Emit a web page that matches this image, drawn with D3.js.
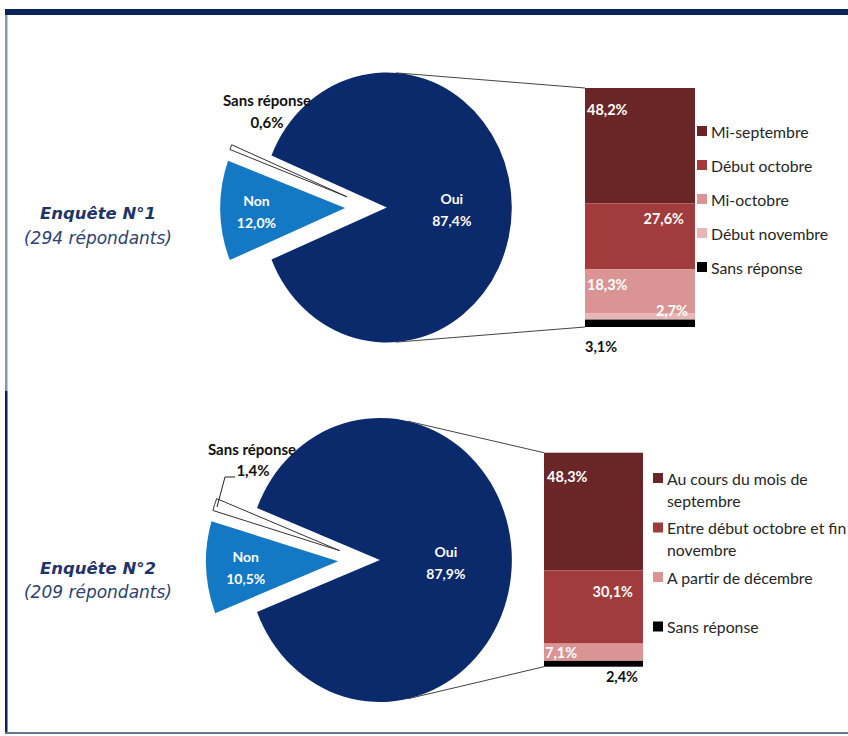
<!DOCTYPE html>
<html><head><meta charset="utf-8">
<script src="https://cdn.jsdelivr.net/npm/d3@7"></script>
<style>body{margin:0;background:#fff} svg{display:block}</style>
</head><body>
<svg id="c" width="848" height="736"></svg>
<script>
// ---------- DATA ----------
const surveyTitles = ["Enquête N°1", "Enquête N°2"];
const surveySubtitles = ["(294 répondants)", "(209 répondants)"];

const pie1Labels = ["Oui", "Non", "Sans réponse"];
const pie1Values = [87.4, 12.0, 0.6];
const pie2Labels = ["Oui", "Non", "Sans réponse"];
const pie2Values = [87.9, 10.5, 1.4];

const bar1Categories = ["Mi-septembre", "Début octobre", "Mi-octobre", "Début novembre", "Sans réponse"];
const bar1Values = [48.2, 27.6, 18.3, 2.7, 3.1];
const bar2Categories = ["Au cours du mois de|septembre", "Entre début octobre et fin|novembre", "A partir de décembre", "Sans réponse"];
const bar2Values = [48.3, 30.1, 7.1, 2.4];

// ---------- STYLE / LAYOUT ----------
const FONT = "Lato, Carlito, Calibri, sans-serif";
const pieColors = ["#0b2a6b", "#1479c4", "#ffffff"];
const bar1Colors = ["#6a2626", "#a23b3b", "#da9493", "#e8b6b5", "#000000"];
const bar2Colors = ["#6a2626", "#a23b3b", "#da9493", "#000000"];
const fmt = v => d3.format(".1f")(v).replace(".", ",") + "%";

const svg = d3.select("#c");

// frame
svg.append("rect").attr("x", 5).attr("y", 9).attr("width", 843).attr("height", 6).attr("fill", "#0b2358");
svg.append("rect").attr("x", 5).attr("y", 15).attr("width", 2.5).attr("height", 376).attr("fill", "#8696b0");
svg.append("rect").attr("x", 5).attr("y", 391).attr("width", 2.5).attr("height", 342).attr("fill", "#0b2358");
svg.append("rect").attr("x", 5).attr("y", 732).attr("width", 843).attr("height", 2).attr("fill", "#5f7593");

// survey titles
const titleLayout = [{x: 98, y1: 213, y2: 238}, {x: 98, y1: 568, y2: 592}];
surveyTitles.forEach((t, i) => {
  const L = titleLayout[i];
  svg.append("text").attr("x", L.x).attr("y", L.y1).attr("text-anchor", "middle")
    .attr("dominant-baseline", "central")
    .style("font-family", "Verdana, 'DejaVu Sans', sans-serif").style("font-size", "16.5px")
    .style("font-weight", "bold").style("font-style", "italic").attr("fill", "#1f3468").text(t);
  svg.append("text").attr("x", L.x).attr("y", L.y2).attr("text-anchor", "middle")
    .attr("dominant-baseline", "central")
    .style("font-family", "Verdana, 'DejaVu Sans', sans-serif").style("font-size", "17px")
    .style("font-style", "italic").attr("fill", "#2e3f70").text(surveySubtitles[i]);
});

function drawGroup(cfg) {
  const {values, labels, barValues, barCats, barColors} = cfg;
  const total = d3.sum(values);
  const start = Math.PI / 2 - (values[0] / total) * Math.PI;
  const arcs = d3.pie().sort(null).startAngle(start).endAngle(start + 2 * Math.PI)(values);
  const arc = d3.arc().innerRadius(0).outerRadius(cfg.ry);
  const sx = cfg.rx / cfg.ry;
  const g = svg.append("g").attr("transform", `translate(${cfg.cx},${cfg.cy}) scale(${sx},1)`);
  const offs = arcs.map((a, i) => {
    const mid = (a.startAngle + a.endAngle) / 2;
    const e = cfg.explode[i];
    return [e * Math.sin(mid), -e * Math.cos(mid)];
  });
  arcs.forEach((a, i) => {
    const p = g.append("path").attr("d", arc(a))
      .attr("transform", `translate(${offs[i][0]},${offs[i][1]})`)
      .attr("fill", pieColors[i]);
    if (i === 2) p.attr("stroke", "#333").attr("stroke-width", 1).attr("vector-effect", "non-scaling-stroke");
  });
  // inner labels (Oui, Non)
  [0, 1].forEach(i => {
    const a = arcs[i];
    const mid = (a.startAngle + a.endAngle) / 2;
    const rr = cfg.ry * cfg.labelR[i];
    const lx = cfg.cx + (offs[i][0] + rr * Math.sin(mid)) * sx;
    const ly = cfg.cy + offs[i][1] - rr * Math.cos(mid) + 2;
    [labels[i], fmt(values[i])].forEach((t, k) => {
      svg.append("text").attr("x", lx).attr("y", ly + (k === 0 ? -11 : 11))
        .attr("text-anchor", "middle").attr("dominant-baseline", "central")
        .style("font-family", FONT).style("font-size", "14px").style("font-weight", "bold")
        .attr("fill", "#fff").text(t);
    });
  });
  // Sans réponse label
  [labels[2], fmt(values[2])].forEach((t, k) => {
    svg.append("text").attr("x", cfg.srLabel[k][0]).attr("y", cfg.srLabel[k][1])
      .attr("text-anchor", "middle").attr("dominant-baseline", "central")
      .style("font-family", FONT).style("font-size", "15px").style("font-weight", "bold")
      .attr("fill", "#111").text(t);
  });
  if (cfg.leader) {
    svg.append("path").attr("d", d3.line()(cfg.leader)).attr("fill", "none")
      .attr("stroke", "#222").attr("stroke-width", 1);
  }

  // bar
  const y = d3.scaleLinear().domain([0, d3.sum(barValues)]).range([cfg.barTop, cfg.barBottom]);
  const cum = d3.cumsum(barValues);
  const x0 = cfg.barX0, x1 = cfg.barX1;
  barValues.forEach((v, i) => {
    const s = i === 0 ? 0 : cum[i - 1];
    svg.append("rect").attr("x", x0).attr("width", x1 - x0)
      .attr("y", y(s)).attr("height", y(s + v) - y(s)).attr("fill", barColors[i]);
  });
  barValues.forEach((v, i) => {
    const s = i === 0 ? 0 : cum[i - 1];
    const L = cfg.barLabels[i];
    svg.append("text")
      .attr("x", L.anchor === "start" ? x0 + L.dx : x1 - L.dx)
      .attr("y", y(s) + L.dy)
      .attr("text-anchor", L.anchor).attr("dominant-baseline", "central")
      .style("font-family", FONT).style("font-size", "14.5px").style("font-weight", "bold")
      .attr("fill", L.color).text(fmt(v));
  });

  // connector lines (tangent from bar corners to Oui ellipse)
  const ax = cfg.cx + offs[0][0] * sx, ay = cfg.cy + offs[0][1];
  function tangent(px, py, top) {
    const ux = (px - ax) / cfg.rx, uy = (py - ay) / cfg.ry;
    const d = Math.hypot(ux, uy), phi = Math.atan2(uy, ux), al = Math.acos(1 / d);
    const c = [phi - al, phi + al].map(t => [ax + cfg.rx * Math.cos(t), ay + cfg.ry * Math.sin(t)]);
    c.sort((a, b) => a[1] - b[1]);
    return top ? c[0] : c[1];
  }
  [[cfg.barTop, true], [cfg.barBottom, false]].forEach(([by, top]) => {
    const t = tangent(x0, by, top);
    svg.append("line").attr("x1", t[0]).attr("y1", t[1]).attr("x2", x0).attr("y2", by)
      .attr("stroke", "#444").attr("stroke-width", 1);
  });

  // legend
  barCats.forEach((c, i) => {
    const ly = cfg.legY + i * cfg.legStep;
    svg.append("rect").attr("x", cfg.legX).attr("y", ly - 5).attr("width", 10).attr("height", 10)
      .attr("fill", barColors[i]);
    c.split("|").forEach((line, k) => {
      svg.append("text").attr("x", cfg.legX + 14).attr("y", ly + k * 22)
        .attr("dominant-baseline", "central")
        .style("font-family", FONT).style("font-size", "15.8px").attr("fill", "#262626").text(line);
    });
  });
}

drawGroup({
  values: pie1Values, labels: pie1Labels,
  barValues: bar1Values, barCats: bar1Categories, barColors: bar1Colors,
  cx: 372, cy: 207.5, rx: 125, ry: 135, explode: [16, 29, 29], labelR: [0.52, 0.71],
  srLabel: [[267, 100], [267, 122]],
  barX0: 585, barX1: 695, barTop: 88, barBottom: 327,
  barLabels: [
    {anchor: "start", dx: 2, dy: 21, color: "#fff"},
    {anchor: "end", dx: 11, dy: 15, color: "#fff"},
    {anchor: "start", dx: 2, dy: 15, color: "#fff"},
    {anchor: "end", dx: 7, dy: -3, color: "#fff"},
    {anchor: "start", dx: 0, dy: 27, color: "#111"}
  ],
  legX: 697, legY: 131, legStep: 34
});

drawGroup({
  values: pie2Values, labels: pie2Labels,
  barValues: bar2Values, barCats: bar2Categories, barColors: bar2Colors,
  cx: 365, cy: 560, rx: 132, ry: 142, explode: [16, 29, 29], labelR: [0.50, 0.70],
  srLabel: [[252, 449], [253, 470]],
  leader: [[235, 477], [225, 477], [217, 507]],
  barX0: 544, barX1: 643, barTop: 452.7, barBottom: 666.7,
  barLabels: [
    {anchor: "start", dx: 3, dy: 24, color: "#fff"},
    {anchor: "end", dx: 10, dy: 21, color: "#fff"},
    {anchor: "start", dx: 1, dy: 9, color: "#fff"},
    {anchor: "end", dx: 5, dy: 16, color: "#111"}
  ],
  legX: 653, legY: 478, legStep: 49.5
});
</script>
</body></html>
